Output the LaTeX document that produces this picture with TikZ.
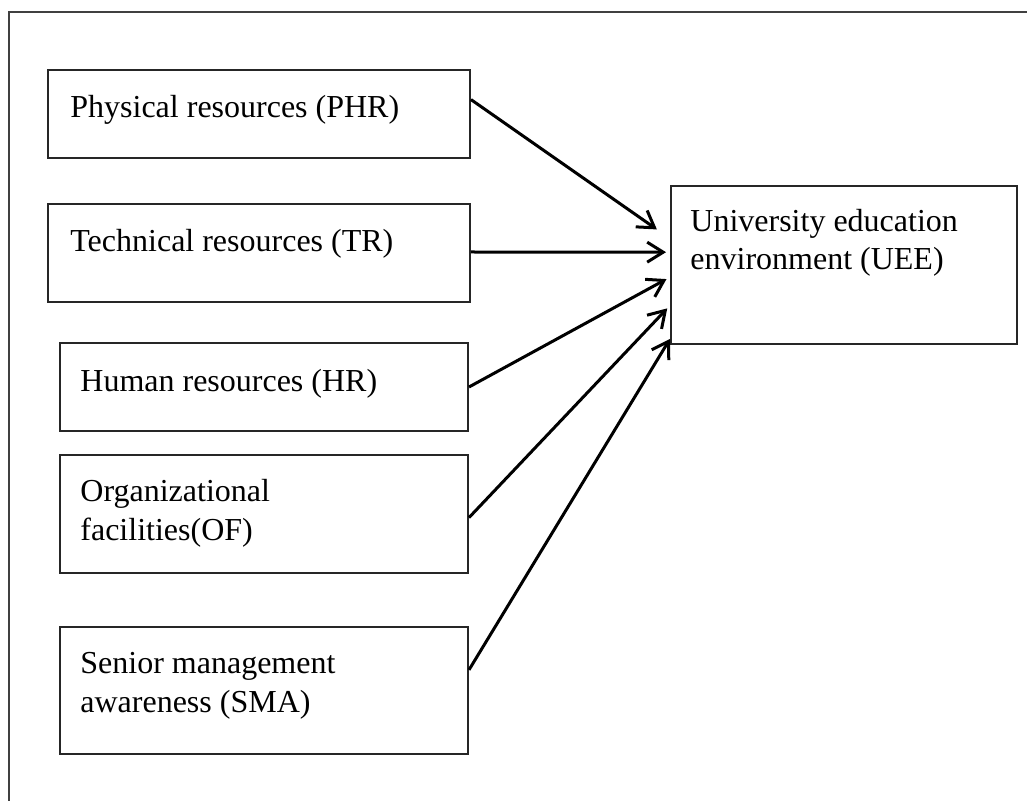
\documentclass[tikz,border=0pt]{standalone}
\usepackage{fontspec}
\setmainfont{Liberation Serif}
\usetikzlibrary{arrows.meta,fit,calc}

\tikzset{
  box/.style={draw=black!85, line width=1pt, rectangle, inner sep=0pt},
  lbl/.style={inner sep=0pt, align=left, font=\fontsize{16}{19}\selectfont},
  link/.style={line width=1.5pt, -{Straight Barb[length=8pt,width=10pt,line width=1.5pt]}},
}

\begin{document}
\begin{tikzpicture}[x=0.5pt, y=-0.5pt]
  \useasboundingbox (0,0) rectangle (1027,801);
  \clip (0,0) rectangle (1027,801);

  % outer frame (top and left edges visible)
  \draw[black!75, line width=1pt] (1040,12) -- (9,12) -- (9,815);

  % factor boxes
  \node[box, fit={(48,70) (470,158)}]  (phr) {};
  \node[box, fit={(48,204) (470,302)}] (tr)  {};
  \node[box, fit={(60,343) (468,431)}] (hr)  {};
  \node[box, fit={(60,455) (468,573)}] (of)  {};
  \node[box, fit={(60,627) (468,754)}] (sma) {};
  \node[box, fit={(671,186) (1017,344)}] (uee) {};

  % labels
  \node[lbl, anchor=base west] (phrt) at (70,118) {Physical resources (PHR)};
  \node[lbl, anchor=base west] (trt)  at (70,252) {Technical resources (TR)};
  \node[lbl, anchor=base west] (hrt)  at (80,392) {Human resources (HR)};
  \node[lbl, anchor=base west] (oft1) at (80,502) {Organizational};
  \node[lbl, anchor=base west] (oft2) at (80,540) {facilities(OF)};
  \node[lbl, anchor=base west] (smat1) at (80,673) {Senior management};
  \node[lbl, anchor=base west] (smat2) at (80,712) {awareness (SMA)};
  \node[lbl, anchor=base west] (ueet1) at (690,232) {University education};
  \node[lbl, anchor=base west] (ueet2) at (690,270) {environment (UEE)};

  % influences on the education environment
  \draw[link, shorten >=8pt] ($(phr.north east)!0.34!(phr.south east)$) -- ($(uee.north west)!0.335!(uee.south west)$);
  \draw[link, shorten >=2pt] ($(tr.north east)!0.49!(tr.south east)$)   -- ($(uee.north west)!0.42!(uee.south west)$);
  \draw[link, shorten >=2pt] ($(hr.north east)!0.5!(hr.south east)$)    -- ($(uee.north west)!0.576!(uee.south west)$);
  \draw[link, shorten >=2pt] ($(of.north east)!0.53!(of.south east)$)   -- ($(uee.north west)!0.753!(uee.south west)$);
  \draw[link, shorten >=0pt] ($(sma.north east)!0.34!(sma.south east)$) -- ($(uee.north west)!0.962!(uee.south west)$);
\end{tikzpicture}
\end{document}
